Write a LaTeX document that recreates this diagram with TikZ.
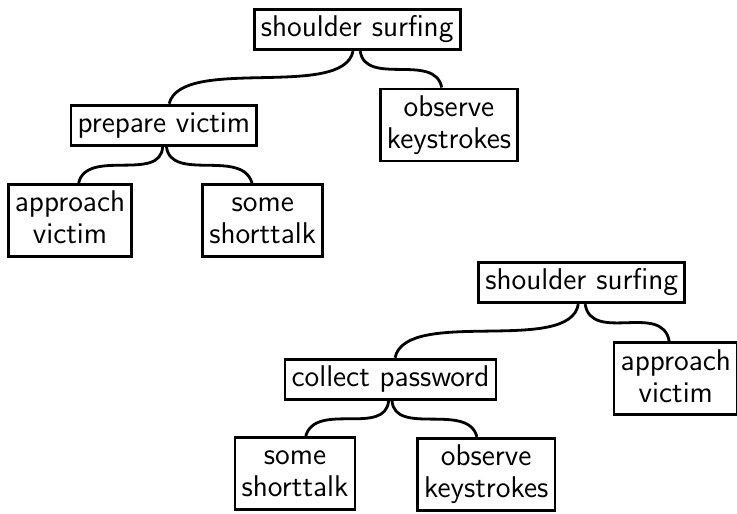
\documentclass[tikz,border=0pt]{standalone}
\begin{document}
\begin{tikzpicture}[x=0.5pt, y=0.5pt,
		goal/.style={draw, line width=1.4pt, inner sep=3.3pt, align=center,
			font=\fontsize{15}{16}\selectfont\sffamily},
		branch/.style={line width=1.4pt}
	]
	\def\Hg{\vphantom{hg}}
	\useasboundingbox (0,0) rectangle (737,513);
	% first tree
	\node[goal] (ssA) at (357.2,483.5) {\Hg shoulder surfing};
	\node[goal] (pvA) at (163.8,387.8) {\Hg prepare victim};
	\node[goal] (okA) at (449,388) {\Hg observe\\keystrokes\Hg};
	\node[goal] (avA) at (70,292.5) {\Hg approach\\victim\Hg};
	\node[goal] (stA) at (262.7,292.5) {\Hg some\\shorttalk\Hg};
	\draw[branch] (ssA) to[out=-101, in=76, distance=25pt] (pvA);
	\draw[branch] (ssA) to[out=-82, in=101, distance=18pt] (okA);
	\draw[branch] (pvA) to[out=-93, in=77, distance=18pt] (avA);
	\draw[branch] (pvA) to[out=-83, in=106, distance=18pt] (stA);
	% second tree
	\node[goal] (ssB) at (581.7,230.5) {\Hg shoulder surfing};
	\node[goal] (cpB) at (390.5,133.8) {\Hg collect password};
	\node[goal] (avB) at (675.8,134.3) {\Hg approach\\victim\Hg};
	\node[goal] (stB) at (295,39.5) {\Hg some\\shorttalk\Hg};
	\node[goal] (okB) at (486.2,38.7) {\Hg observe\\keystrokes\Hg};
	\draw[branch] (ssB) to[out=-99, in=78, distance=26pt] (cpB);
	\draw[branch] (ssB) to[out=-81, in=100, distance=20pt] (avB);
	\draw[branch] (cpB) to[out=-95, in=74, distance=18pt] (stB);
	\draw[branch] (cpB) to[out=-86, in=104, distance=18pt] (okB);
\end{tikzpicture}
\end{document}
